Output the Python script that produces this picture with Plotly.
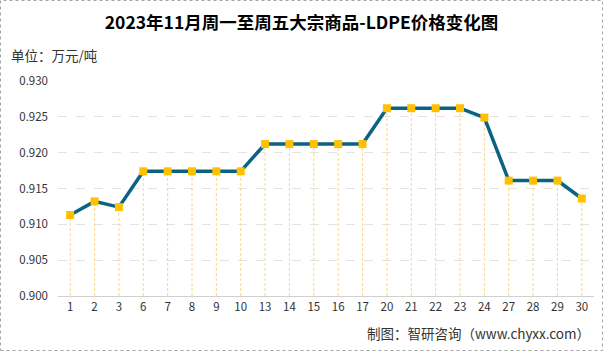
import plotly.graph_objects as go

days = ["1", "2", "3", "6", "7", "8", "9", "10", "13", "14", "15", "16", "17",
        "20", "21", "22", "23", "24", "27", "28", "29", "30"]
prices = [0.9113, 0.9132, 0.9124, 0.9174, 0.9174, 0.9174, 0.9174, 0.9174,
          0.9212, 0.9212, 0.9212, 0.9212, 0.9212, 0.9262, 0.9262, 0.9262,
          0.9262, 0.9249, 0.9161, 0.9161, 0.9161, 0.9136]
y_ticks = [0.900, 0.905, 0.910, 0.915, 0.920, 0.925, 0.930]
y_min, y_max = 0.900, 0.930

W, H = 603, 351
ml, mr, mt, mb = 58, 9, 81, 55
pw, ph = W - ml - mr, H - mt - mb

font_cjk = "Noto Sans CJK SC, Microsoft YaHei, sans-serif"

# drop lines built from data
dx, dy = [], []
for d, p in zip(days, prices):
    dx += [d, d, None]
    dy += [y_min, p, None]

fig = go.Figure()
fig.add_trace(go.Scatter(x=dx, y=dy, mode="lines",
                         line=dict(color="#FBD68A", width=1, dash="3px,2px"),
                         hoverinfo="skip", showlegend=False))
fig.add_trace(go.Scatter(x=days, y=prices, mode="lines+markers",
                         line=dict(color="#0B6283", width=3.5),
                         marker=dict(symbol="square", size=8, color="#FFC000"),
                         showlegend=False))

fig.update_layout(
    width=W, height=H,
    margin=dict(l=ml, r=mr, t=mt, b=mb),
    paper_bgcolor="white", plot_bgcolor="white",
    font=dict(family=font_cjk, size=11, color="#333333"),
    title=dict(text="<b>2023年11月周一至周五大宗商品-LDPE价格变化图</b>",
               x=0.5, xanchor="center", y=1 - 23 / H, yanchor="middle",
               font=dict(size=17.5, color="#000000", family=font_cjk)),
    xaxis=dict(type="category", categoryorder="array", categoryarray=days,
               showgrid=False, showline=True, linecolor="#D0D0D0", linewidth=1,
               ticks="", tickfont=dict(size=11.5, color="#333333"),
               range=[-0.5, len(days) - 0.5], fixedrange=True),
    yaxis=dict(range=[y_min, y_max], tickvals=y_ticks,
               ticktext=[f"{v:.3f}" for v in y_ticks],
               showgrid=True, gridcolor="#E3E3E3", griddash="dash", gridwidth=1,
               zeroline=False, showline=False, ticks="",
               tickfont=dict(size=11.5, color="#333333"), ticklabelstandoff=9),
    annotations=[
        dict(text="单位：万元/吨", xref="paper", yref="paper",
             x=-(ml - 9) / pw, y=1 + (mt - 55) / ph, xanchor="left", yanchor="middle",
             showarrow=False, font=dict(size=13.5, color="#333333", family=font_cjk)),
        dict(text="制图：智研咨询（www.chyxx.com）", xref="paper", yref="paper",
             x=1 + (mr - 11) / pw, y=-(333 - mt - ph) / ph, xanchor="right", yanchor="middle",
             showarrow=False, font=dict(size=13.5, color="#333333", family=font_cjk)),
    ],
    shapes=[dict(type="rect", xref="paper", yref="paper",
                 x0=-(ml - 0.5) / pw, x1=1 + (mr - 0.5) / pw,
                 y0=-(mb - 0.5) / ph, y1=1 + (mt - 0.5) / ph,
                 line=dict(color="#A6A6A6", width=1, dash="dot"))],
)

fig.write_html("out.html")
